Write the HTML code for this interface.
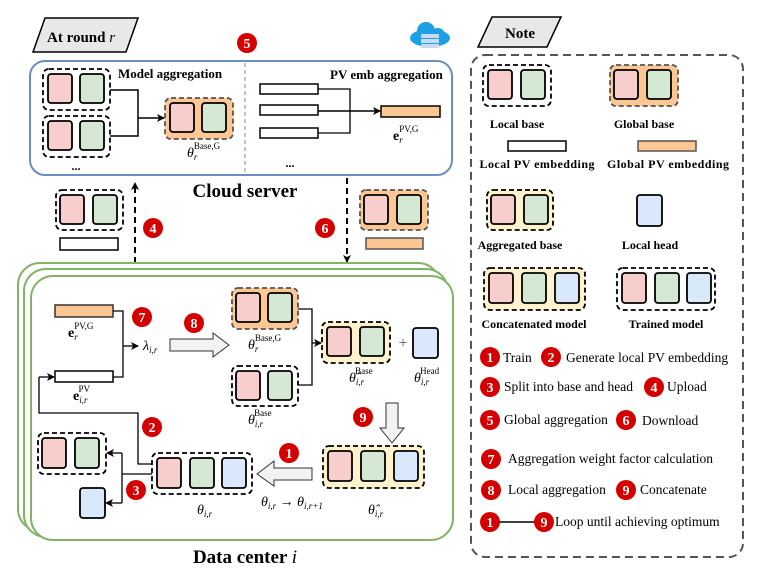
<!DOCTYPE html>
<html><head><meta charset="utf-8"><style>
html,body{margin:0;padding:0;background:#fff}
svg{display:block}
text{font-family:"Liberation Serif",serif}
.b{font-weight:bold}
.m{font-style:italic}
</style></head><body>
<svg width="757" height="576" viewBox="0 0 757 576" xmlns="http://www.w3.org/2000/svg">
<defs>
<marker id="ar" markerWidth="8" markerHeight="8" refX="7" refY="4" orient="auto" markerUnits="userSpaceOnUse"><path d="M0,0 L8,4 L0,8 L2,4 z" fill="#000"/></marker>
</defs>

<polygon points="45,18 138,18 126,52 33,52" fill="#e8e8e8" stroke="#000" stroke-width="1.5"/>
<text x="47" y="42" font-size="15" class="b">At round <tspan class="m" font-weight="normal">r</tspan></text>
<circle cx="247" cy="43" r="10" fill="#d40000"/><text x="247" y="48" font-size="14" class="b" fill="#fff" text-anchor="middle">5</text>

<g transform="translate(430,38)">
<ellipse cx="0" cy="0" rx="20" ry="9" fill="#1ea0e6"/><circle cx="-4" cy="-7" r="9" fill="#1ea0e6"/><circle cx="8" cy="-3" r="7" fill="#1ea0e6"/>
<rect x="-9" y="-4" width="18" height="4" fill="#c8dcf0"/><rect x="-9" y="1" width="18" height="4" fill="#c8dcf0"/><rect x="-9" y="6" width="18" height="4" fill="#c8dcf0"/>
</g>

<rect x="30" y="61" width="422" height="114" rx="15" fill="#fff" stroke="#6c8ebf" stroke-width="2"/>
<line x1="245" y1="63" x2="245" y2="173" stroke="#6c8ebf" stroke-width="1" stroke-dasharray="4,3"/>
<text x="118" y="78" font-size="13" class="b">Model aggregation</text>
<text x="330" y="79" font-size="13" class="b">PV emb aggregation</text>

<g stroke="#000" stroke-width="1.8">
<rect x="43" y="69" width="67" height="41" rx="6" fill="none" stroke-dasharray="5,3"/>
<rect x="48" y="74" width="24" height="29" rx="3" fill="#f8cecc"/><rect x="80" y="74" width="24" height="29" rx="3" fill="#d5e8d4"/>
<rect x="43" y="116" width="67" height="41" rx="6" fill="none" stroke-dasharray="5,3"/>
<rect x="48" y="121" width="24" height="29" rx="3" fill="#f8cecc"/><rect x="80" y="121" width="24" height="29" rx="3" fill="#d5e8d4"/>
<rect x="165" y="98" width="68" height="41" rx="6" fill="#fdc793" stroke="#555" stroke-dasharray="5,3"/>
<rect x="170" y="103" width="24" height="29" rx="3" fill="#f8cecc"/><rect x="202" y="103" width="24" height="29" rx="3" fill="#d5e8d4"/>
</g>
<text x="76" y="170" font-size="12" class="b" text-anchor="middle">...</text>
<polyline points="110,90 138,90 138,136 110,136" fill="none" stroke="#000" stroke-width="1.5"/>
<line x1="138" y1="118" x2="164" y2="118" stroke="#000" stroke-width="1.5" marker-end="url(#ar)"/>
<text x="187" y="157" font-size="14" class="m">θ<tspan font-size="9" dy="3">r</tspan><tspan font-size="9" dx="-3.5" dy="-11" font-style="normal">Base,G</tspan></text>

<g stroke="#000" stroke-width="1.5" fill="#fff">
<rect x="260" y="84" width="58" height="10"/><rect x="260" y="105" width="58" height="10"/><rect x="260" y="128" width="58" height="10"/>
<rect x="381" y="106" width="59" height="11" fill="#fdc793"/>
</g>
<polyline points="318,89 350,89 350,133 318,133" fill="none" stroke="#000" stroke-width="1.3"/>
<line x1="318" y1="111" x2="380" y2="111" stroke="#000" stroke-width="1.5" marker-end="url(#ar)"/>
<text x="393" y="140" font-size="14" class="b">e<tspan font-size="9" dy="3" font-style="italic" font-weight="normal">r</tspan><tspan font-size="9" dx="-3.5" dy="-11" font-weight="normal">PV,G</tspan></text>
<text x="290" y="167" font-size="12" class="b" text-anchor="middle">...</text>

<text x="245" y="197" font-size="19" class="b" text-anchor="middle">Cloud server</text>

<line x1="135" y1="263" x2="135" y2="183" stroke="#000" stroke-width="2" stroke-dasharray="6,4" marker-end="url(#ar)"/>
<line x1="347" y1="178" x2="347" y2="262" stroke="#000" stroke-width="2" stroke-dasharray="6,4" marker-end="url(#ar)"/>
<g stroke="#000" stroke-width="1.8">
<rect x="56" y="190" width="67" height="40" rx="6" fill="none" stroke-dasharray="5,3"/>
<rect x="60" y="195" width="24" height="29" rx="3" fill="#f8cecc"/><rect x="93" y="195" width="24" height="29" rx="3" fill="#d5e8d4"/>
<rect x="360" y="190" width="68" height="40" rx="6" fill="#fdc793" stroke="#555" stroke-dasharray="5,3"/>
<rect x="364" y="195" width="24" height="29" rx="3" fill="#f8cecc"/><rect x="397" y="195" width="24" height="29" rx="3" fill="#d5e8d4"/>
</g>
<rect x="60" y="238" width="58" height="12" fill="#fff" stroke="#000" stroke-width="1.5"/>
<rect x="366" y="238" width="57" height="11" fill="#fdc793" stroke="#555" stroke-width="1.5"/>
<circle cx="153" cy="228" r="10" fill="#d40000"/><text x="153" y="233" font-size="14" class="b" fill="#fff" text-anchor="middle">4</text>
<circle cx="325" cy="228" r="10" fill="#d40000"/><text x="325" y="233" font-size="14" class="b" fill="#fff" text-anchor="middle">6</text>

<rect x="18" y="263" width="422" height="268" rx="22" fill="#fff" stroke="#82b366" stroke-width="2"/>
<rect x="24" y="269" width="424" height="268" rx="22" fill="#fff" stroke="#82b366" stroke-width="2"/>
<rect x="31" y="276" width="422" height="264" rx="22" fill="#fff" stroke="#82b366" stroke-width="2"/>
<text x="245" y="563" font-size="19" class="b" text-anchor="middle">Data center <tspan class="m" font-weight="normal">i</tspan></text>

<rect x="55" y="305" width="58" height="12" fill="#fdc793" stroke="#333" stroke-width="1.5"/>
<rect x="55" y="371" width="58" height="11" fill="#fff" stroke="#000" stroke-width="1.5"/>
<text x="68" y="337" font-size="14" class="b">e<tspan font-size="9" dy="3" font-style="italic" font-weight="normal">r</tspan><tspan font-size="9" dx="-3.5" dy="-11" font-weight="normal">PV,G</tspan></text>
<text x="73" y="400" font-size="14" class="b">e<tspan font-size="9" dy="3" font-style="italic" font-weight="normal">i,r</tspan><tspan font-size="9" dx="-9" dy="-11" font-weight="normal">PV</tspan></text>
<polyline points="113,311 123,311 123,377 113,377" fill="none" stroke="#000" stroke-width="1.3"/>
<line x1="123" y1="346" x2="138" y2="346" stroke="#000" stroke-width="1.3" marker-end="url(#ar)"/>
<text x="143" y="350" font-size="14" class="m">λ<tspan font-size="9" dy="3">i,r</tspan></text>
<circle cx="142" cy="317" r="10" fill="#d40000"/><text x="142" y="322" font-size="14" class="b" fill="#fff" text-anchor="middle">7</text>
<circle cx="194" cy="323" r="10" fill="#d40000"/><text x="194" y="328" font-size="14" class="b" fill="#fff" text-anchor="middle">8</text>
<polygon points="170,339 213,339 213,333 229,345 213,357 213,351 170,351" fill="#f2f2f2" stroke="#333" stroke-width="1"/>

<g stroke="#000" stroke-width="1.8">
<rect x="232" y="288" width="66" height="41" rx="6" fill="#fdc793" stroke="#555" stroke-dasharray="5,3"/>
<rect x="236" y="293" width="24" height="29" rx="3" fill="#f8cecc"/><rect x="268" y="293" width="24" height="29" rx="3" fill="#d5e8d4"/>
<rect x="232" y="366" width="66" height="40" rx="6" fill="none" stroke-dasharray="5,3"/>
<rect x="236" y="371" width="24" height="29" rx="3" fill="#f8cecc"/><rect x="268" y="371" width="24" height="29" rx="3" fill="#d5e8d4"/>
<rect x="322" y="322" width="68" height="41" rx="6" fill="#fff2cc" stroke-dasharray="5,3"/>
<rect x="327" y="327" width="24" height="29" rx="3" fill="#f8cecc"/><rect x="360" y="327" width="24" height="29" rx="3" fill="#d5e8d4"/>
<rect x="413" y="328" width="25" height="30" rx="3" fill="#dae8fc"/>
<rect x="323" y="446" width="101" height="42" rx="6" fill="#fff2cc" stroke-dasharray="5,3"/>
<rect x="328" y="451" width="24" height="30" rx="3" fill="#f8cecc"/><rect x="361" y="451" width="24" height="30" rx="3" fill="#d5e8d4"/><rect x="394" y="451" width="24" height="30" rx="3" fill="#dae8fc"/>
<rect x="152" y="453" width="100" height="41" rx="6" fill="none" stroke-dasharray="5,3"/>
<rect x="157" y="458" width="24" height="30" rx="3" fill="#f8cecc"/><rect x="190" y="458" width="24" height="30" rx="3" fill="#d5e8d4"/><rect x="222" y="458" width="24" height="30" rx="3" fill="#dae8fc"/>
<rect x="38" y="433" width="68" height="41" rx="6" fill="none" stroke-dasharray="5,3"/>
<rect x="42" y="438" width="24" height="30" rx="3" fill="#f8cecc"/><rect x="75" y="438" width="24" height="30" rx="3" fill="#d5e8d4"/>
<rect x="80" y="488" width="25" height="30" rx="3" fill="#dae8fc"/>
</g>
<text x="403" y="348" font-size="16" fill="#555" text-anchor="middle">+</text>
<polyline points="298,309 312,309 312,385 298,385" fill="none" stroke="#000" stroke-width="1.3"/>
<line x1="312" y1="343" x2="321" y2="343" stroke="#000" stroke-width="1.3" marker-end="url(#ar)"/>
<text x="248" y="349" font-size="14" class="m">θ<tspan font-size="9" dy="3">r</tspan><tspan font-size="9" dx="-3.5" dy="-11" font-style="normal">Base,G</tspan></text>
<text x="248" y="424" font-size="14" class="m">θ<tspan font-size="9" dy="3">i,r</tspan><tspan font-size="9" dx="-9" dy="-11" font-style="normal">Base</tspan></text>
<text x="349" y="382" font-size="14" class="m">θ̂<tspan font-size="9" dy="3">i,r</tspan><tspan font-size="9" dx="-9" dy="-11" font-style="normal">Base</tspan></text>
<text x="414" y="382" font-size="14" class="m">θ<tspan font-size="9" dy="3">i,r</tspan><tspan font-size="9" dx="-9" dy="-11" font-style="normal">Head</tspan></text>
<circle cx="363" cy="417" r="10" fill="#d40000"/><text x="363" y="422" font-size="14" class="b" fill="#fff" text-anchor="middle">9</text>
<polygon points="386,403 398,403 398,428 404,428 392,443 380,428 386,428" fill="#f2f2f2" stroke="#333" stroke-width="1"/>
<text x="368" y="514" font-size="14" class="m">θ̂<tspan font-size="9" dy="3">i,r</tspan></text>
<circle cx="289" cy="453" r="10" fill="#d40000"/><text x="289" y="458" font-size="14" class="b" fill="#fff" text-anchor="middle">1</text>
<polygon points="312,468 274,468 274,461 257,474 274,486 274,480 312,480" fill="#f2f2f2" stroke="#333" stroke-width="1"/>
<text x="261" y="506" font-size="14" class="m">θ<tspan font-size="9" dy="3">i,r</tspan><tspan dy="-3" font-style="normal"> → </tspan>θ<tspan font-size="9" dy="3">i,r+1</tspan></text>
<text x="197" y="514" font-size="14" class="m">θ<tspan font-size="9" dy="3">i,r</tspan></text>
<polyline points="152,464 138,464 138,413 39,413 39,377" fill="none" stroke="#000" stroke-width="1.3"/>
<line x1="39" y1="377" x2="54" y2="377" stroke="#000" stroke-width="1.3" marker-end="url(#ar)"/>
<circle cx="152" cy="427" r="10" fill="#d40000"/><text x="152" y="432" font-size="14" class="b" fill="#fff" text-anchor="middle">2</text>
<line x1="152" y1="474" x2="122" y2="474" stroke="#000" stroke-width="1.3"/>
<polyline points="122,453 122,503" fill="none" stroke="#000" stroke-width="1.3"/>
<line x1="122" y1="453" x2="107" y2="453" stroke="#000" stroke-width="1.3" marker-end="url(#ar)"/>
<line x1="122" y1="503" x2="106" y2="503" stroke="#000" stroke-width="1.3" marker-end="url(#ar)"/>
<circle cx="136" cy="490" r="10" fill="#d40000"/><text x="136" y="495" font-size="14" class="b" fill="#fff" text-anchor="middle">3</text>

<polygon points="492,17 561,17 547,47 478,47" fill="#e8e8e8" stroke="#000" stroke-width="1.5"/>
<text x="520" y="38" font-size="15" class="b" text-anchor="middle">Note</text>
<rect x="471" y="55" width="272" height="502" rx="14" fill="none" stroke="#555" stroke-width="2" stroke-dasharray="8,5"/>
<g stroke="#000" stroke-width="1.8">
<rect x="483" y="65" width="68" height="41" rx="6" fill="none" stroke-dasharray="5,3"/>
<rect x="488" y="70" width="24" height="29" rx="3" fill="#f8cecc"/><rect x="521" y="70" width="24" height="29" rx="3" fill="#d5e8d4"/>
<rect x="610" y="65" width="68" height="41" rx="6" fill="#fdc793" stroke="#555" stroke-dasharray="5,3"/>
<rect x="614" y="70" width="24" height="29" rx="3" fill="#f8cecc"/><rect x="647" y="70" width="24" height="29" rx="3" fill="#d5e8d4"/>
<rect x="487" y="190" width="66" height="40" rx="6" fill="#fff2cc" stroke-dasharray="5,3"/>
<rect x="491" y="195" width="24" height="29" rx="3" fill="#f8cecc"/><rect x="524" y="195" width="24" height="29" rx="3" fill="#d5e8d4"/>
<rect x="637" y="195" width="25" height="31" rx="3" fill="#dae8fc"/>
<rect x="484" y="268" width="101" height="42" rx="6" fill="#fff2cc" stroke-dasharray="5,3"/>
<rect x="489" y="273" width="24" height="30" rx="3" fill="#f8cecc"/><rect x="522" y="273" width="24" height="30" rx="3" fill="#d5e8d4"/><rect x="555" y="273" width="24" height="30" rx="3" fill="#dae8fc"/>
<rect x="617" y="268" width="98" height="42" rx="6" fill="none" stroke-dasharray="5,3"/>
<rect x="622" y="273" width="24" height="30" rx="3" fill="#f8cecc"/><rect x="655" y="273" width="24" height="30" rx="3" fill="#d5e8d4"/><rect x="687" y="273" width="24" height="30" rx="3" fill="#dae8fc"/>
</g>
<rect x="508" y="141" width="58" height="10" fill="#fff" stroke="#000" stroke-width="1.5"/>
<rect x="638" y="141" width="58" height="10" fill="#fdc793" stroke="#555" stroke-width="1.5"/>
<g font-size="12" class="b" text-anchor="middle">
<text x="517" y="128">Local base</text><text x="644" y="128">Global base</text>
<text x="537" y="168" textLength="115">Local PV embedding</text><text x="668" y="168" textLength="122">Global PV embedding</text>
<text x="520" y="249">Aggregated base</text><text x="650" y="249">Local head</text>
<text x="534" y="328">Concatenated model</text><text x="666" y="328">Trained model</text>
</g>
<g font-size="13.5">
<circle cx="490" cy="357" r="10" fill="#d40000"/><text x="490" y="362" class="b" fill="#fff" text-anchor="middle" font-size="14">1</text><text x="503" y="362">Train</text>
<circle cx="551" cy="357" r="10" fill="#d40000"/><text x="551" y="362" class="b" fill="#fff" text-anchor="middle" font-size="14">2</text><text x="566" y="362">Generate local PV embedding</text>
<circle cx="490" cy="387" r="10" fill="#d40000"/><text x="490" y="392" class="b" fill="#fff" text-anchor="middle" font-size="14">3</text><text x="504" y="391">Split into base and head</text>
<circle cx="654" cy="387" r="10" fill="#d40000"/><text x="654" y="392" class="b" fill="#fff" text-anchor="middle" font-size="14">4</text><text x="667" y="391">Upload</text>
<circle cx="490" cy="420" r="10" fill="#d40000"/><text x="490" y="425" class="b" fill="#fff" text-anchor="middle" font-size="14">5</text><text x="504" y="424">Global aggregation</text>
<circle cx="626" cy="420" r="10" fill="#d40000"/><text x="626" y="425" class="b" fill="#fff" text-anchor="middle" font-size="14">6</text><text x="642" y="425">Download</text>
<circle cx="491" cy="459" r="10" fill="#d40000"/><text x="491" y="464" class="b" fill="#fff" text-anchor="middle" font-size="14">7</text><text x="508" y="463">Aggregation weight factor calculation</text>
<circle cx="491" cy="490" r="10" fill="#d40000"/><text x="491" y="495" class="b" fill="#fff" text-anchor="middle" font-size="14">8</text><text x="508" y="494">Local aggregation</text>
<circle cx="626" cy="490" r="10" fill="#d40000"/><text x="626" y="495" class="b" fill="#fff" text-anchor="middle" font-size="14">9</text><text x="640" y="494">Concatenate</text>
<line x1="499" y1="522" x2="535" y2="522" stroke="#000" stroke-width="1.5"/>
<circle cx="490" cy="522" r="10" fill="#d40000"/><text x="490" y="527" class="b" fill="#fff" text-anchor="middle" font-size="14">1</text>
<circle cx="544" cy="522" r="10" fill="#d40000"/><text x="544" y="527" class="b" fill="#fff" text-anchor="middle" font-size="14">9</text><text x="555" y="526">Loop until achieving optimum</text>
</g>
</svg>
</body></html>
